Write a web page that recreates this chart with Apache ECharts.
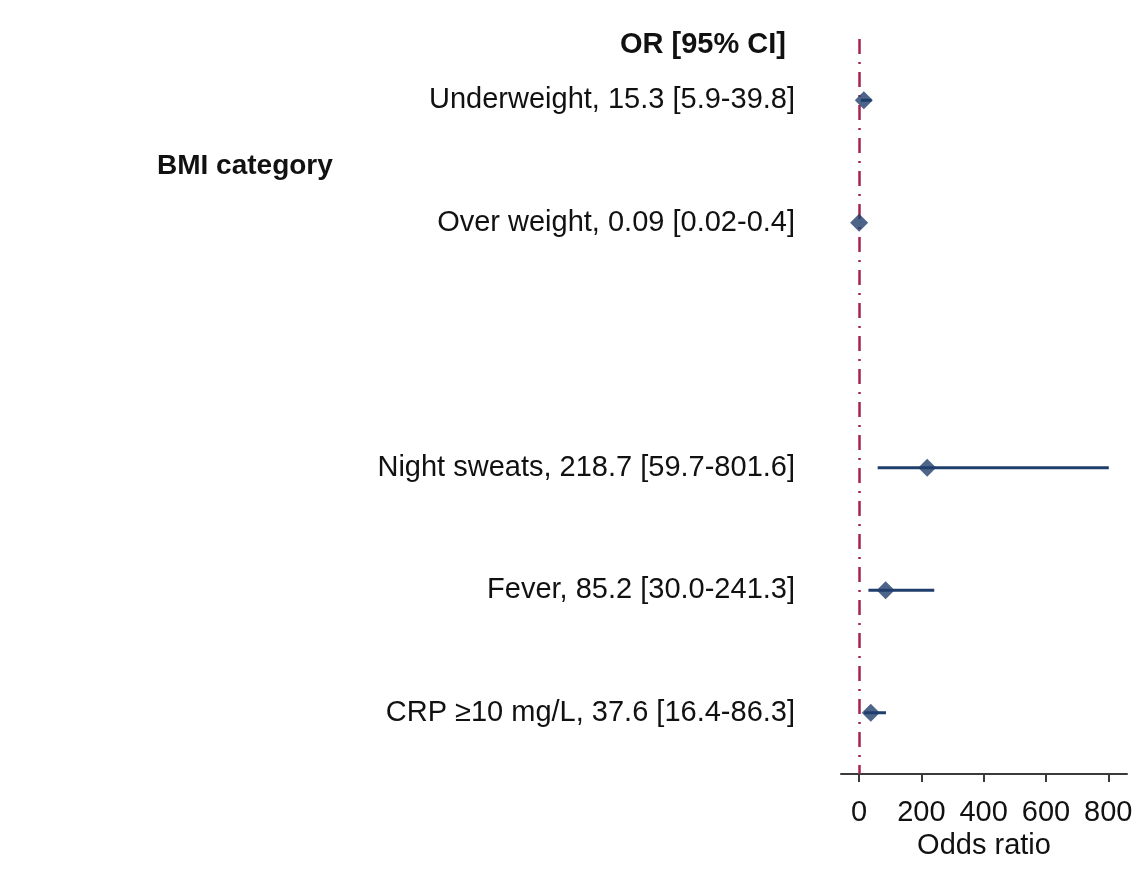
<!DOCTYPE html>
<html>
<head>
<meta charset="utf-8">
<script src="https://cdn.jsdelivr.net/npm/echarts@6/dist/echarts.min.js"></script>
<style>
html,body{margin:0;padding:0;background:#fff;}
#chart{width:1147px;height:889px;}
</style>
</head>
<body>
<div id="chart"></div>
<script>
// Data
const rowLabels = [
  'Underweight, 15.3 [5.9-39.8]',
  'Over weight, 0.09 [0.02-0.4]',
  '',
  'Night sweats, 218.7 [59.7-801.6]',
  'Fever, 85.2 [30.0-241.3]',
  'CRP \u226510 mg/L, 37.6 [16.4-86.3]'
];
const orValues = [15.3, 0.09, null, 218.7, 85.2, 37.6];
const ciLower  = [5.9, 0.02, null, 59.7, 30.0, 16.4];
const ciUpper  = [39.8, 0.4, null, 801.6, 241.3, 86.3];
const xTicks = [0, 200, 400, 600, 800];
const headerText = 'OR [95% CI]';
const groupText = 'BMI category';
const axisTitle = 'Odds ratio';
const refValue = 0;

const navy = '#1f3e6c';
const red = '#a5234e';
const textCol = '#111';
const FONT = 'Liberation Sans, Arial, sans-serif';

const pointData = [];
const ciData = [];
orValues.forEach((v, i) => {
  if (v !== null) {
    pointData.push([v, i]);
    ciData.push([ciLower[i], ciUpper[i], i]);
  }
});

const chart = echarts.init(document.getElementById('chart'), null, {renderer: 'canvas'});
chart.setOption({
  animation: false,
  backgroundColor: '#fff',
  grid: {left: 841, width: 286, top: 39, height: 735, containLabel: false},
  xAxis: {
    type: 'value',
    min: -58,
    max: 860,
    splitLine: {show: false},
    axisLine: {show: true, onZero: false, lineStyle: {color: '#3a3a3a', width: 2}},
    axisTick: {show: true, customValues: xTicks, length: 8, lineStyle: {color: '#3a3a3a', width: 2}},
    axisLabel: {customValues: xTicks, fontSize: 29, color: textCol, margin: 24, fontFamily: FONT},
    name: axisTitle,
    nameLocation: 'middle',
    nameGap: 51,
    nameTextStyle: {fontSize: 29, color: textCol, fontFamily: FONT}
  },
  yAxis: {
    type: 'category',
    data: rowLabels,
    inverse: true,
    axisLine: {show: false},
    axisTick: {show: false},
    splitLine: {show: false},
    axisLabel: {fontSize: 29, color: textCol, margin: 46, fontFamily: FONT, padding: [6, 0, 0, 0]}
  },
  graphic: [
    {type: 'text', x: 786, y: 45, style: {text: headerText, align: 'right', verticalAlign: 'middle', font: 'bold 29px ' + FONT, fill: textCol}},
    {type: 'text', x: 157, y: 166, style: {text: groupText, align: 'left', verticalAlign: 'middle', font: 'bold 28px ' + FONT, fill: textCol}}
  ],
  series: [
    {
      type: 'custom',
      data: ciData,
      encode: {x: [0, 1], y: 2},
      z: 2,
      renderItem: function (params, api) {
        const p1 = api.coord([api.value(0), api.value(2)]);
        const p2 = api.coord([api.value(1), api.value(2)]);
        return {type: 'line', shape: {x1: p1[0], y1: p1[1], x2: p2[0], y2: p2[1]}, style: {stroke: navy, lineWidth: 3}};
      }
    },
    {
      type: 'scatter',
      data: pointData,
      symbol: 'diamond',
      symbolSize: [18, 18],
      itemStyle: {color: navy},
      z: 4,
      markLine: {
        silent: true,
        symbol: ['none', 'none'],
        label: {show: false},
        lineStyle: {color: red, width: 2.5, type: [15, 8, 2, 8]},
        data: [{xAxis: refValue}],
        z: 1
      }
    }
  ]
});
</script>
</body>
</html>
